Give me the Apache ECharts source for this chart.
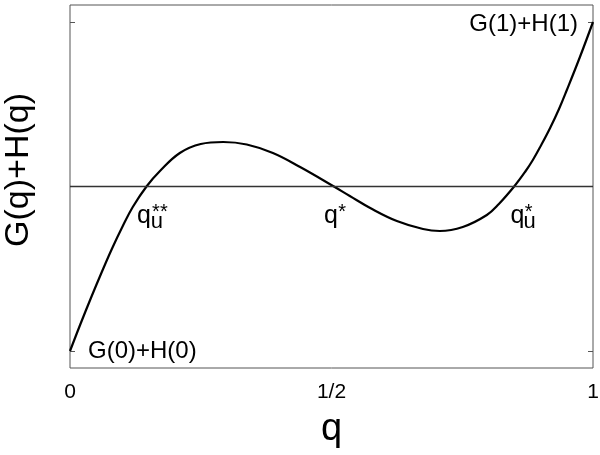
<!DOCTYPE html>
<html>
<head>
<meta charset="utf-8">
<script src="https://cdn.jsdelivr.net/npm/echarts@6/dist/echarts.min.js"></script>
<style>html,body{margin:0;padding:0;background:#fff;}#c{width:600px;height:455px;}</style>
</head>
<body>
<div id="c"></div>
<script>
// q values and G(q)+H(q) values (arbitrary units)
var qValues = [0, 0.02, 0.04, 0.06, 0.08, 0.10, 0.12, 0.147, 0.172, 0.210, 0.250, 0.293, 0.338, 0.388, 0.440, 0.503, 0.535, 0.574, 0.625, 0.675, 0.707, 0.751, 0.797, 0.820, 0.850, 0.870, 0.885, 0.900, 0.918, 0.935, 0.950, 0.975, 1.0];
var ghValues = [-165, -138, -112, -87, -63, -41, -21, 0, 15, 33, 42, 44, 41.5, 33, 19, 0, -10, -22, -35, -43, -45, -41, -29, -18, 0, 14, 26, 40, 58, 77, 96, 129, 164];
var xTickValues = [0, 0.5, 1];
var xTickLabels = ['0', '1/2', '1'];
var yTickValues = [-165, 164];
var roots = [0.147, 0.503, 0.850];
var endLabels = ['G(0)+H(0)', 'G(1)+H(1)'];
var xTitle = 'q';
var yTitle = 'G(q)+H(q)';

var font = 'Liberation Sans, Arial, Helvetica, sans-serif';
var data = qValues.map(function (q, i) { return [q, ghValues[i]]; });

function lbl(coord, text, size, dx, dy) {
  return {
    coord: coord, symbol: 'circle', symbolSize: 0,
    label: { show: true, position: 'inside', formatter: text, fontSize: size, fontFamily: font, color: '#000', offset: [dx, dy] }
  };
}

var chart = echarts.init(document.getElementById('c'), null, { renderer: 'canvas' });
chart.setOption({
  animation: false,
  backgroundColor: '#fff',
  grid: { left: 70, right: 7, top: 5, bottom: 87, show: true, borderColor: '#555', borderWidth: 1, containLabel: false, outerBoundsMode: 'none' },
  graphic: [{
    type: 'text', left: 2, top: 93, rotation: Math.PI / 2,
    style: { text: yTitle, fontSize: 34, fontFamily: font, fill: '#000' }
  }],
  xAxis: {
    type: 'value', min: 0, max: 1, interval: 0.5,
    axisLine: { show: false }, axisTick: { show: false }, splitLine: { show: false },
    axisLabel: {
      fontSize: 21, fontFamily: font, color: '#000', margin: 14,
      formatter: function (v) { var i = xTickValues.indexOf(v); return i >= 0 ? xTickLabels[i] : ''; }
    },
    name: xTitle, nameLocation: 'middle', nameGap: 43,
    nameTextStyle: { fontSize: 38, fontFamily: font, color: '#000' }
  },
  yAxis: [{
    type: 'value', min: -182, max: 181,
    axisLine: { show: false }, splitLine: { show: false },
    axisTick: { show: true, inside: true, length: 5, customValues: yTickValues, lineStyle: { color: '#555' } },
    axisLabel: { show: false }
  }, {
    type: 'value', min: -182, max: 181, position: 'right',
    axisLine: { show: false }, splitLine: { show: false },
    axisTick: { show: true, inside: true, length: 5, customValues: yTickValues, lineStyle: { color: '#555' } },
    axisLabel: { show: false }
  }],
  series: [{
    type: 'line', data: data, smooth: 0.4, showSymbol: false,
    lineStyle: { color: '#000', width: 2.2 },
    markLine: {
      silent: true, symbol: 'none', label: { show: false },
      lineStyle: { color: '#333', width: 1.4, type: 'solid' },
      data: [{ yAxis: 0 }]
    },
    markPoint: {
      silent: true,
      data: [
        lbl([roots[0], 0], 'q', 25, -3, 30),
        lbl([roots[0], 0], 'u', 22, 10, 36),
        lbl([roots[0], 0], '**', 20, 13, 26),
        lbl([roots[1], 0], 'q', 25, -2, 30),
        lbl([roots[1], 0], '*', 20, 9, 26),
        lbl([roots[2], 0], 'q', 25, 3, 30),
        lbl([roots[2], 0], 'u', 22, 15, 36),
        lbl([roots[2], 0], '*', 20, 14, 26),
        {
          coord: [qValues[0], ghValues[0]], symbol: 'circle', symbolSize: 0,
          label: { show: true, position: 'right', distance: 18, formatter: endLabels[0], fontSize: 24, fontFamily: font, color: '#000' }
        },
        {
          coord: [qValues[qValues.length - 1], ghValues[ghValues.length - 1]], symbol: 'circle', symbolSize: 0,
          label: { show: true, position: 'left', distance: 15, formatter: endLabels[1], fontSize: 24, fontFamily: font, color: '#000', offset: [0, 2] }
        }
      ]
    }
  }]
});
</script>
</body>
</html>
